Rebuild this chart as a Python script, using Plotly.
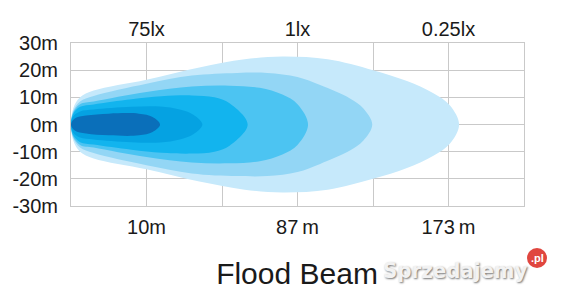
import plotly.graph_objects as go

# ---- data ----
# x positions are grid-column units (0..6), half-widths in metres
distance_ticks = [1, 3, 5]
distance_labels = ["10m", "87\u2009m", "173\u2009m"]
lux_labels = ["75lx", "1lx", "0.25lx"]
grid_cols = [0, 1, 2, 3, 4, 5, 6]
width_ticks = [-30, -20, -10, 0, 10, 20, 30]
width_labels = ["-30m", "-20m", "-10m", "0m", "10m", "20m", "30m"]

layer1_x = [0, 0.03, 0.12, 0.3, 1.0, 1.7, 2.3, 2.8, 3.4, 4.0, 4.45, 4.8, 5.02, 5.14]
layer1_w = [0, 6, 10, 12.5, 16.5, 21, 24, 25, 24, 20, 16, 11.5, 7, 0]
layer2_x = [0, 0.03, 0.12, 0.3, 1.0, 1.6, 2.2, 2.6, 3.0, 3.3, 3.7, 3.87, 3.99]
layer2_w = [0, 5, 8.5, 10.5, 15, 18, 19, 19, 17.5, 14.5, 9.5, 6, 0]
layer3_x = [0, 0.03, 0.12, 0.3, 1.0, 1.6, 2.1, 2.5, 2.8, 3.0, 3.14]
layer3_w = [0, 4.5, 7.5, 8.5, 12, 14, 14.3, 13.5, 11, 7.5, 0]
layer4_x = [0, 0.03, 0.12, 0.3, 0.8, 1.2, 1.6, 1.9, 2.1, 2.34]
layer4_w = [0, 4, 6.5, 7.4, 9.3, 10.4, 10.7, 10, 7.8, 0]
layer5_x = [0, 0.03, 0.12, 0.3, 0.8, 1.18, 1.44, 1.62, 1.74]
layer5_w = [0, 3, 4.8, 5.5, 6.5, 6.6, 5.5, 3.6, 0]
layer6_x = [0, 0.05, 0.2, 0.5, 0.9, 1.08, 1.18]
layer6_w = [0, 2.2, 3.3, 4, 4, 2.8, 0]

layers = [
    (layer1_x, layer1_w, "#c6e9fb"),
    (layer2_x, layer2_w, "#93d6f5"),
    (layer3_x, layer3_w, "#4cc4f2"),
    (layer4_x, layer4_w, "#12b4ee"),
    (layer5_x, layer5_w, "#05a2e2"),
    (layer6_x, layer6_w, "#0a6fba"),
]

FONT = "Liberation Sans, Arial, Helvetica, sans-serif"
GRID = "#c9c9c9"

fig = go.Figure()
for xs, ws, col in layers:
    x = list(xs) + list(xs[::-1])[1:]
    y = list(ws) + [-w for w in ws[::-1]][1:]
    fig.add_trace(go.Scatter(
        x=x, y=y, mode="lines", line=dict(width=0, color=col, shape="spline", smoothing=1.0),
        fill="toself", fillcolor=col, hoverinfo="skip", showlegend=False))

# invisible trace for the top (lux) axis
fig.add_trace(go.Scatter(x=[0, 6], y=[0, 0], xaxis="x2", mode="markers",
                         marker=dict(opacity=0), hoverinfo="skip", showlegend=False))

fig.update_layout(
    width=567, height=302,
    margin=dict(l=71, r=43, t=43, b=96),
    paper_bgcolor="white", plot_bgcolor="white",
    font=dict(family=FONT, color="#1a1a1a"),
    xaxis=dict(range=[0, 6], tickvals=grid_cols,
               ticktext=[distance_labels[distance_ticks.index(c)] if c in distance_ticks else "" for c in grid_cols],
               showgrid=True, gridcolor=GRID, gridwidth=1, zeroline=False,
               showline=True, linecolor=GRID, linewidth=1, mirror=True,
               ticks="", ticklabelstandoff=3, tickfont=dict(size=20, family=FONT, color="#1a1a1a"),
               fixedrange=True),
    xaxis2=dict(range=[0, 6], overlaying="x", side="top", tickvals=distance_ticks,
                ticktext=lux_labels, showgrid=False, zeroline=False, ticks="",
                ticklabelstandoff=2, tickfont=dict(size=20, family=FONT, color="#1a1a1a")),
    yaxis=dict(range=[-30, 30], tickvals=width_ticks, ticktext=width_labels,
               showgrid=True, gridcolor=GRID, gridwidth=1, zeroline=False,
               showline=True, linecolor=GRID, linewidth=1, mirror=True,
               ticks="", ticklabelstandoff=8, tickfont=dict(size=20, family=FONT, color="#1a1a1a"),
               fixedrange=True),
    title=dict(text="Flood Beam", x=297 / 567, xanchor="center", y=1 - 273 / 302, yanchor="middle",
               xref="container", yref="container",
               font=dict(size=30, family=FONT, color="#1a1a1a")),
    showlegend=False,
)

# watermark
fig.add_annotation(text="<b>Sprzedajemy</b>", xref="paper", yref="paper",
                   x=(455 - 71) / 453, y=-(270 - 206) / 163, xanchor="center", yanchor="middle",
                   showarrow=False,
                   font=dict(size=22, family="DejaVu Sans Condensed, Liberation Sans Narrow, sans-serif",
                             color="#f2f2f2", shadow="1px 1px 2px #777"))
fig.add_shape(type="circle", xref="paper", yref="paper",
              x0=(527 - 71) / 453, x1=(547 - 71) / 453,
              y0=-(268 - 206) / 163, y1=-(248 - 206) / 163,
              fillcolor="#e0463f", line=dict(width=0), layer="above")
fig.add_annotation(text="<b>.pl</b>", xref="paper", yref="paper",
                   x=(537 - 71) / 453, y=-(258 - 206) / 163, xanchor="center", yanchor="middle",
                   showarrow=False, font=dict(size=11, family=FONT, color="white"))

fig.write_html("out.html")
